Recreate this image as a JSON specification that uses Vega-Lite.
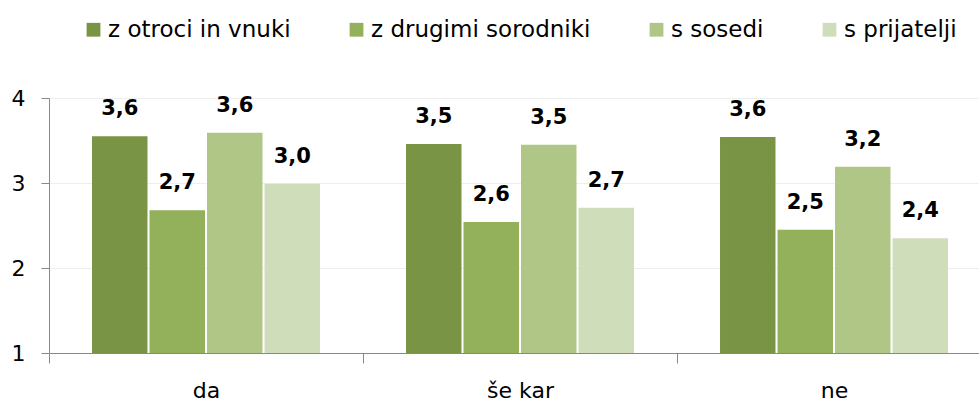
{
  "$schema": "https://vega.github.io/schema/vega-lite/v6.json",
  "autosize": {"type": "none"},
  "padding": {"left": 49, "top": 98, "right": 0, "bottom": 48},
  "width": 942,
  "height": 255,
  "background": "white",
  "config": {
    "font": "DejaVu Sans",
    "view": {"stroke": null},
    "axis": {"labelFont": "DejaVu Sans", "labelColor": "#000000"}
  },
  "data": {
    "values": [
      {"kat": "da", "skupina": "z otroci in vnuki", "vrednost": 3.55, "oznaka": "3,6"},
      {"kat": "da", "skupina": "z drugimi sorodniki", "vrednost": 2.68, "oznaka": "2,7"},
      {"kat": "da", "skupina": "s sosedi", "vrednost": 3.59, "oznaka": "3,6"},
      {"kat": "da", "skupina": "s prijatelji", "vrednost": 2.99, "oznaka": "3,0"},
      {"kat": "še kar", "skupina": "z otroci in vnuki", "vrednost": 3.46, "oznaka": "3,5"},
      {"kat": "še kar", "skupina": "z drugimi sorodniki", "vrednost": 2.54, "oznaka": "2,6"},
      {"kat": "še kar", "skupina": "s sosedi", "vrednost": 3.45, "oznaka": "3,5"},
      {"kat": "še kar", "skupina": "s prijatelji", "vrednost": 2.71, "oznaka": "2,7"},
      {"kat": "ne", "skupina": "z otroci in vnuki", "vrednost": 3.54, "oznaka": "3,6"},
      {"kat": "ne", "skupina": "z drugimi sorodniki", "vrednost": 2.45, "oznaka": "2,5"},
      {"kat": "ne", "skupina": "s sosedi", "vrednost": 3.19, "oznaka": "3,2"},
      {"kat": "ne", "skupina": "s prijatelji", "vrednost": 2.35, "oznaka": "2,4"}
    ]
  },
  "encoding": {
    "x": {
      "field": "kat",
      "type": "nominal",
      "sort": ["da", "še kar", "ne"],
      "scale": {"paddingInner": 0, "paddingOuter": 0},
      "axis": {
        "title": null,
        "labelAngle": 0,
        "labelFontSize": 22,
        "labelPadding": 17,
        "tickBand": "extent",
        "tickSize": 10,
        "tickColor": "#888888",
        "domainColor": "#888888",
        "grid": false
      }
    },
    "xOffset": {
      "field": "skupina",
      "type": "nominal",
      "sort": ["z otroci in vnuki", "z drugimi sorodniki", "s sosedi", "s prijatelji"],
      "scale": {"paddingInner": 0.035, "paddingOuter": 0.748}
    },
    "y": {
      "field": "vrednost",
      "type": "quantitative",
      "scale": {"domain": [1, 4], "zero": false},
      "axis": {
        "title": null,
        "values": [1, 2, 3, 4],
        "labelFontSize": 22,
        "labelPadding": 16,
        "tickSize": 8,
        "tickColor": "#888888",
        "domainColor": "#888888",
        "gridColor": "#EEEEEE",
        "grid": true
      }
    }
  },
  "layer": [
    {
      "mark": {"type": "bar"},
      "encoding": {
        "y2": {"datum": 1},
        "color": {
          "field": "skupina",
          "type": "nominal",
          "sort": ["z otroci in vnuki", "z drugimi sorodniki", "s sosedi", "s prijatelji"],
          "scale": {"range": ["#7A9445", "#93B05A", "#AFC686", "#D0DDBA"]},
          "legend": {
            "title": null,
            "orient": "none",
            "direction": "horizontal",
            "legendX": 33,
            "legendY": -80,
            "symbolType": "square",
            "symbolSize": 190,
            "symbolStrokeWidth": 0,
            "labelFontSize": 23,
            "labelFont": "DejaVu Sans",
            "labelColor": "#000000",
            "labelOffset": 3,
            "labelLimit": 400,
            "columnPadding": 54
          }
        }
      }
    },
    {
      "mark": {"type": "text", "baseline": "alphabetic", "dy": -21, "fontSize": 21, "fontWeight": "bold", "font": "DejaVu Sans", "color": "#000000"},
      "encoding": {
        "text": {"field": "oznaka"}
      }
    }
  ]
}
